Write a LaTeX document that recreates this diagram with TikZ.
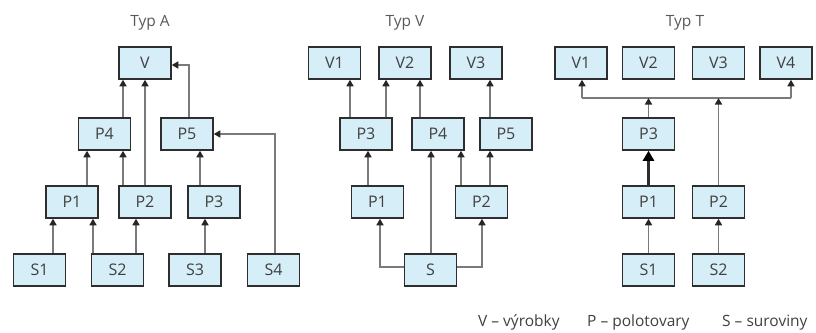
\documentclass[tikz,border=0pt]{standalone}
\usepackage{fontspec}
\setmainfont{Open Sans}
\usetikzlibrary{arrows.meta}
\definecolor{boxfill}{HTML}{D6EEF7}
\definecolor{boxline}{HTML}{2E2E2E}
\definecolor{conn}{HTML}{7A7A7A}
\tikzset{
  item/.style={draw=boxline, line width=1.5pt, fill=boxfill, minimum width=52pt, minimum height=32pt, inner sep=0pt, font=\fontsize{16}{18}\selectfont, text=black!75},
  arr/.style={draw=conn, line width=1.5pt, -{Triangle[length=6.5pt,width=7pt,color=black!85]}},
  bigarr/.style={draw=boxline, line width=2.4pt, -{Triangle[length=10pt,width=11pt,color=black]}},
  plain/.style={draw=conn, line width=1.5pt},
  title/.style={font=\fontsize{15.5}{17}\selectfont, text=black!65},
  legend/.style={font=\fontsize{15.5}{17}\selectfont, text=black!75, anchor=base west, inner sep=0pt}
}
\begin{document}
\begin{tikzpicture}[x=1pt,y=-1pt]
\useasboundingbox (0,0) rectangle (816,332);
% ---------- Typ A ----------
\node[title] (tA) at (150,23) {Typ A};
\node[item] (aV)  at (145,63) {V};
\node[item] (aP4) at (104.5,134) {P4};
\node[item] (aP5) at (187,134) {P5};
\node[item] (aP1) at (72,202) {P1};
\node[item] (aP2) at (145,202) {P2};
\node[item] (aP3) at (214,202) {P3};
\node[item] (aS1) at (39.5,270) {S1};
\node[item] (aS2) at (117.5,270) {S2};
\node[item] (aS3) at (195,270) {S3};
\node[item] (aS4) at (273.5,270) {S4};
\draw[arr] (aS1.north -| 53,0) -- (aP1.south -| 53,0);
\draw[arr] (aS2.north -| 93,0) -- (aP1.south -| 93,0);
\draw[arr] (aS2.north -| 136,0) -- (aP2.south -| 136,0);
\draw[arr] (aS3.north -| 205,0) -- (aP3.south -| 205,0);
\draw[arr] (aP1.north -| 87,0) -- (aP4.south -| 87,0);
\draw[arr] (aP2.north -| 123,0) -- (aP4.south -| 123,0);
\draw[arr] (aP2.north -| 145,0) -- (aV.south -| 145,0);
\draw[arr] (aP4.north -| 123,0) -- (aV.south -| 123,0);
\draw[arr] (aP3.north -| 200,0) -- (aP5.south -| 200,0);
\draw[arr] (aP5.north -| 189,0) |- ([yshift=-2pt]aV.east);
\draw[arr] (aS4.north -| 275,0) |- (aP5.east);
% ---------- Typ V ----------
\node[title] (tV) at (405,23) {Typ V};
\node[item] (vV1) at (334.5,63) {V1};
\node[item] (vV2) at (405,63) {V2};
\node[item] (vV3) at (476,63) {V3};
\node[item] (vP3) at (366,134) {P3};
\node[item] (vP4) at (438,134) {P4};
\node[item] (vP5) at (506,134) {P5};
\node[item] (vP1) at (377.5,202) {P1};
\node[item] (vP2) at (481.5,202) {P2};
\node[item] (vS)  at (430.5,270) {S};
\draw[arr] (vP3.north -| 350,0) -- (vV1.south -| 350,0);
\draw[arr] (vP3.north -| 386,0) -- (vV2.south -| 386,0);
\draw[arr] (vP4.north -| 420,0) -- (vV2.south -| 420,0);
\draw[arr] (vP5.north -| 490,0) -- (vV3.south -| 490,0);
\draw[arr] (vP1.north -| 368,0) -- (vP3.south -| 368,0);
\draw[arr] (vS.north -| 431,0) -- (vP4.south -| 431,0);
\draw[arr] (vP2.north -| 461,0) -- (vP4.south -| 461,0);
\draw[arr] (vP2.north -| 490,0) -- (vP5.south -| 490,0);
\draw[arr] ([yshift=3pt]vS.west) -| (vP1.south -| 380,0);
\draw[arr] ([yshift=3pt]vS.east) -| (vP2.south -| 482,0);
% ---------- Typ T ----------
\node[title] (tT) at (685,23) {Typ T};
\node[item] (tV1) at (581,63) {V1};
\node[item] (tV2) at (648.5,63) {V2};
\node[item] (tV3) at (718.5,63) {V3};
\node[item] (tV4) at (786,63) {V4};
\node[item] (tP3) at (648.5,134) {P3};
\node[item] (tP1) at (648.5,202) {P1};
\node[item] (tP2) at (718.5,202) {P2};
\node[item] (tS1) at (648.5,270) {S1};
\node[item] (tS2) at (718.5,270) {S2};
\coordinate (bL) at (582,98);
\coordinate (bR) at (791,98);
\draw[plain] (bL) -- (bR);
\draw[arr] (bL) -- (tV1.south -| bL);
\draw[arr] (bR) -- (tV4.south -| bR);
\draw[arr] (tP3.north) -- (tP3.north |- bL);
\draw[arr] (tP2.north) -- (tP2.north |- bL);
\draw[bigarr] (tP1.north) -- (tP3.south);
\draw[arr] (tS1.north) -- (tP1.south);
\draw[arr] (tS2.north) -- (tP2.south);
% ---------- legend ----------
\node[legend] (l1) at (478,326) {V – výrobky};
\node[legend] (l2) at (587,326) {P – polotovary};
\node[legend] (l3) at (722,326) {S – suroviny};
\end{tikzpicture}
\end{document}
